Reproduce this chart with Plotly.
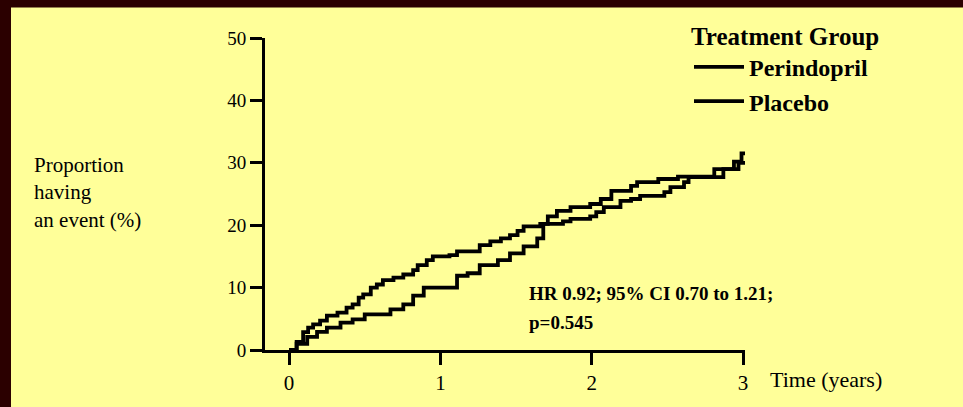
import plotly.graph_objects as go

# Cumulative proportion having an event (%) by time (years), step curves
years_perindopril = [0, 0.05, 0.12, 0.185, 0.25, 0.34, 0.42, 0.50, 0.67, 0.755, 0.82, 0.89,
                     1.11, 1.18, 1.26, 1.38, 1.46, 1.55, 1.64, 1.68, 1.71, 1.77, 1.86, 1.99,
                     2.06, 2.13, 2.26, 2.30, 2.44, 2.57, 2.81, 2.94, 2.99, 3.013]
pct_perindopril = [0, 1.0, 2.1, 2.9, 3.6, 4.4, 4.9, 5.7, 6.5, 7.3, 8.7, 10.0,
                   11.9, 12.3, 13.6, 14.4, 15.5, 16.6, 17.9, 20.2, 21.4, 22.3, 22.9, 23.4,
                   24.2, 25.5, 26.3, 26.9, 27.4, 27.8, 29.0, 30.2, 31.5, 31.5]

years_placebo = [0, 0.05, 0.093, 0.126, 0.159, 0.205, 0.25, 0.32, 0.38, 0.42, 0.46, 0.49,
                 0.54, 0.58, 0.62, 0.69, 0.755, 0.82, 0.85, 0.91, 0.95, 1.06, 1.11, 1.26,
                 1.33, 1.40, 1.46, 1.51, 1.55, 1.66, 1.81, 1.86, 1.99, 2.03, 2.08, 2.19,
                 2.26, 2.32, 2.48, 2.52, 2.61, 2.64, 2.87, 2.97, 3.013]
pct_placebo = [0, 1.3, 2.85, 3.6, 4.1, 4.7, 5.5, 6.0, 6.8, 7.3, 8.4, 8.9,
               10.0, 10.5, 11.2, 11.6, 12.1, 12.8, 13.6, 14.4, 15.0, 15.2, 15.8, 16.8,
               17.4, 17.9, 18.4, 19.1, 19.8, 20.2, 20.6, 21.0, 21.4, 22.1, 22.9, 23.9,
               24.2, 24.7, 25.3, 26.1, 26.9, 27.7, 29.0, 30.0, 30.0]

x_ticks = [0, 1, 2, 3]
y_ticks = [0, 10, 20, 30, 40, 50]

YELLOW = "#FFFF99"
MAROON = "#2B0000"
SERIF = "Liberation Serif"

# plot area in pixels: x 265..745, y 37..353
PW, PH, PL, PB = 480, 316, 265, 353


def px(xp):
    return (xp - PL) / PW


def py(yp):
    return (PB - yp) / PH


fig = go.Figure()
fig.add_trace(go.Scatter(
    x=years_perindopril, y=pct_perindopril, mode="lines", name="Perindopril",
    line=dict(color="black", width=3.8, shape="hv"),
))
fig.add_trace(go.Scatter(
    x=years_placebo, y=pct_placebo, mode="lines", name="Placebo",
    line=dict(color="black", width=3.8, shape="hv"),
))

axis_common = dict(
    showgrid=False, zeroline=False, showline=True, linewidth=3, linecolor="black",
    ticks="outside", ticklen=12, tickwidth=3, tickcolor="black",
)

fig.update_layout(
    width=963, height=407,
    margin=dict(l=265, r=218, t=37, b=54),
    paper_bgcolor=YELLOW, plot_bgcolor=YELLOW,
    font=dict(family=SERIF, color="black"),
    xaxis=dict(range=[-0.159, 3.013], tickvals=x_ticks, tickfont=dict(size=21), **axis_common),
    yaxis=dict(range=[0, 50], tickvals=y_ticks, tickfont=dict(size=19), **axis_common),
    showlegend=True,
    legend=dict(
        title=dict(text="Treatment Group", font=dict(size=25, weight="bold", family=SERIF)),
        font=dict(size=24, weight="bold", family=SERIF),
        x=px(689), y=py(11), xanchor="left", yanchor="top",
        bgcolor="rgba(0,0,0,0)", itemwidth=50, tracegroupgap=0,
    ),
    annotations=[
        dict(text="Proportion<br>having<br>an event (%)", xref="paper", yref="paper",
             x=px(32), y=py(151), xanchor="left", yanchor="top", align="left",
             showarrow=False, font=dict(size=21)),
        dict(text="Time (years)", xref="paper", yref="paper",
             x=px(768), y=py(383), xanchor="left", yanchor="middle",
             showarrow=False, font=dict(size=22)),
        dict(text="HR 0.92; 95% CI 0.70 to 1.21;", xref="paper", yref="paper",
             x=px(527), y=py(296), xanchor="left", yanchor="middle",
             showarrow=False, font=dict(size=19, weight="bold")),
        dict(text="p=0.545", xref="paper", yref="paper",
             x=px(527), y=py(325), xanchor="left", yanchor="middle",
             showarrow=False, font=dict(size=19, weight="bold")),
    ],
    shapes=[
        # dark frame along the top and left edges of the page
        dict(type="rect", xref="paper", yref="paper", layer="above",
             x0=px(-5), x1=px(970), y0=py(6), y1=py(-5),
             fillcolor=MAROON, line=dict(width=0)),
        dict(type="rect", xref="paper", yref="paper", layer="above",
             x0=px(-5), x1=px(11), y0=py(412), y1=py(-5),
             fillcolor=MAROON, line=dict(width=0)),
    ],
)

fig.write_html("out.html")
